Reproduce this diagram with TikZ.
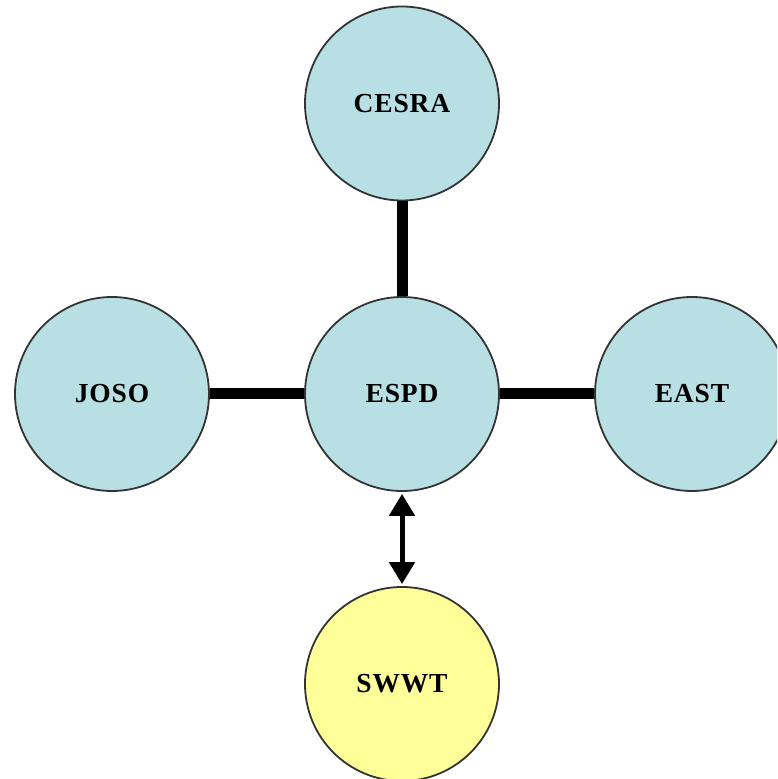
\documentclass[tikz,border=0pt]{standalone}
\usepackage{fontspec}
\setmainfont[LetterSpace=3]{Liberation Serif}
\usetikzlibrary{arrows.meta}
\definecolor{nodeblue}{RGB}{184,223,227}
\definecolor{nodeyellow}{RGB}{255,255,153}
\tikzset{
  org/.style={circle, draw=black!80, line width=1.8pt, fill=nodeblue, minimum size=194pt, inner sep=0pt, font=\fontsize{27.5}{30}\selectfont\bfseries},
  orgy/.style={org, fill=nodeyellow},
  link/.style={line width=11pt, black},
  dbl/.style={line width=5pt, black, {Triangle[length=22pt,width=25pt]}-{Triangle[length=22pt,width=25pt]}, shorten <=2pt, shorten >=2pt}
}
\begin{document}
\begin{tikzpicture}[x=1pt,y=1pt]
\useasboundingbox (0,0) rectangle (777,779);
\clip (0,0) rectangle (777,779);
\node[org] (cesra) at (402,675.5) {CESRA};
\node[org] (espd) at (402,385) {ESPD};
\node[org] (joso) at (112,385) {JOSO};
\node[org] (east) at (692,385) {EAST};
\node[orgy] (swwt) at (402,95) {SWWT};
\draw[link] (cesra.south) -- (espd.north);
\draw[link] (joso.east) -- (espd.west);
\draw[link] (espd.east) -- (east.west);
\draw[dbl] (espd.south) -- (swwt.north);
\end{tikzpicture}
\end{document}
